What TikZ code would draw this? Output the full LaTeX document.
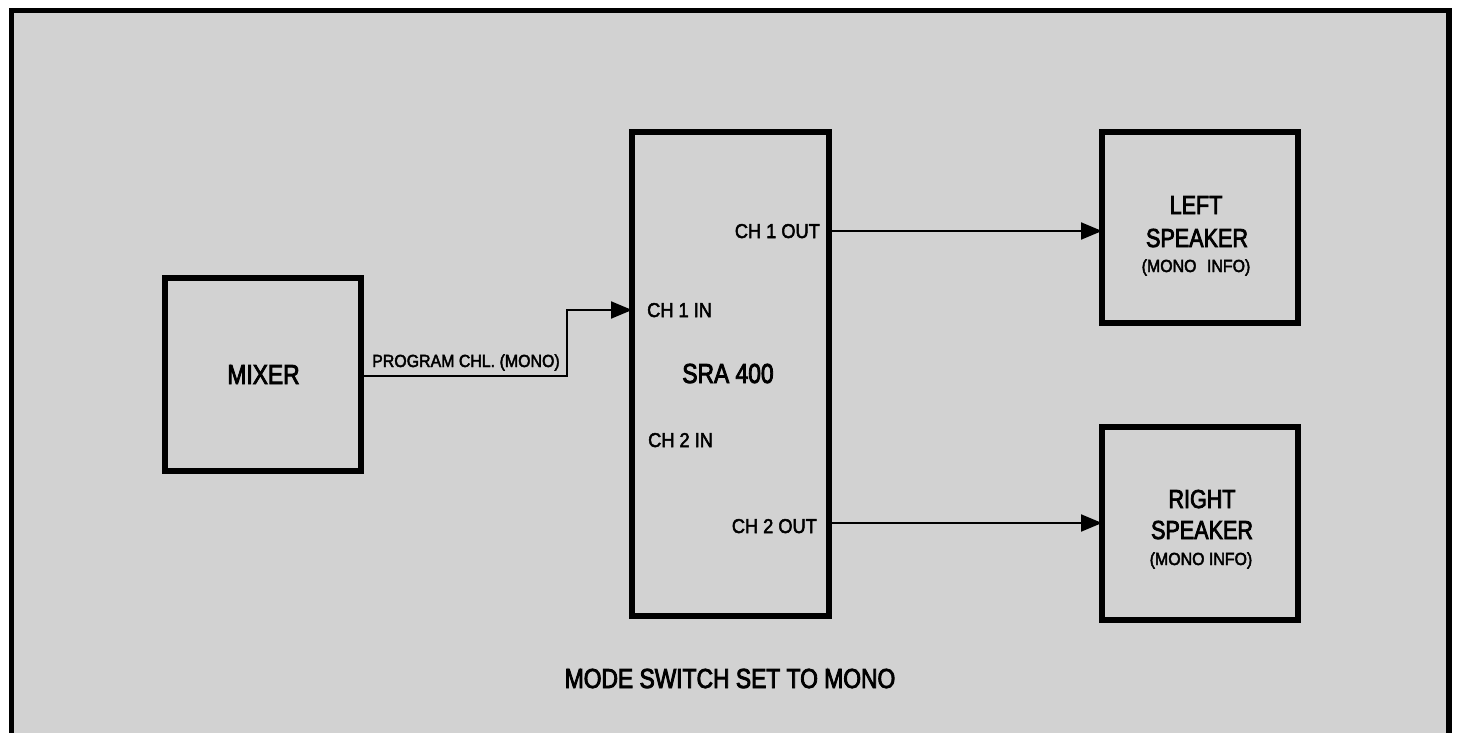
\documentclass[tikz,border=0pt]{standalone}
\usepackage{fontspec}
\newfontfamily\condA[FakeStretch=0.83,FakeBold=3]{Liberation Sans}
\newfontfamily\condB[FakeStretch=0.91,FakeBold=2.5]{Liberation Sans}
\usetikzlibrary{arrows.meta}
\definecolor{paper}{RGB}{210,210,210}
\begin{document}
\begin{tikzpicture}[x=1pt,y=-1pt,
  blockbox/.style={draw=black,line width=5.5pt,minimum width=#1,inner sep=0pt,outer sep=0pt},
  bigtxt/.style={inner sep=0pt,font=\condA\fontsize{27.5}{30}\selectfont},
  spktxt/.style={inner sep=0pt,font=\condA\fontsize{26}{28}\selectfont},
  smalltxt/.style={inner sep=0pt,font=\condB\fontsize{20}{22}\selectfont},
  infotxt/.style={inner sep=0pt,font=\condB\fontsize{17.5}{19}\selectfont},
  wire/.style={draw=black,line width=2pt,-{Triangle[length=21pt,width=17pt]}}]
\useasboundingbox (0,0) rectangle (1457,733);
\fill[white] (0,0) rectangle (1457,733);
\fill[paper] (11.5,10.5) rectangle (1449,733);
\draw[line width=5.5pt] (11.5,733) -- (11.5,10.5) -- (1449,10.5) -- (1449,733);

% blocks
\node[blockbox=196pt,minimum height=193pt] (mixer) at (263,374.5) {};
\node[blockbox=197pt,minimum height=484pt] (sra) at (730.5,374) {};
\node[blockbox=196pt,minimum height=191pt] (lsp) at (1200,227.5) {};
\node[blockbox=196pt,minimum height=193pt] (rsp) at (1200,523.5) {};

% texts
\node[bigtxt,anchor=base] (tmixer) at (263.5,384) {MIXER};
\node[bigtxt,anchor=base] (tsra) at (728,383) {SRA 400};
\node[smalltxt,anchor=base west] (tin1) at (647,317) {CH 1 IN};
\node[smalltxt,anchor=base west] (tin2) at (648,447) {CH 2 IN};
\node[smalltxt,anchor=base east] (tout1) at (820,238) {CH 1 OUT};
\node[smalltxt,anchor=base east] (tout2) at (817,533) {CH 2 OUT};
\node[infotxt,anchor=base west] (tprog) at (372,367) {PROGRAM CHL. (MONO)};
\node[spktxt,anchor=base] (tl1) at (1196,214) {LEFT};
\node[spktxt,anchor=base] (tl2) at (1197,247) {SPEAKER};
\node[infotxt,anchor=base] (tl3) at (1196,272) {(MONO\hspace{0.6em}INFO)};
\node[spktxt,anchor=base] (tr1) at (1202,508) {RIGHT};
\node[spktxt,anchor=base] (tr2) at (1202,539) {SPEAKER};
\node[infotxt,anchor=base] (tr3) at (1201,565) {(MONO INFO)};
\node[bigtxt,anchor=base] (tmode) at (730,688) {MODE SWITCH SET TO MONO};

% connectors
\coordinate (in1) at ([yshift=64pt]sra.west);
\coordinate (bend) at ([xshift=206pt,yshift=-1.5pt]mixer.east);
\draw[wire] ([yshift=-1.5pt]mixer.east) -- (bend) |- (in1);
\coordinate (o1) at ([yshift=143pt]sra.east);
\coordinate (o2) at ([yshift=-149pt]sra.east);
\draw[wire] (o1) -- (o1 -| lsp.west);
\draw[wire] (o2) -- (o2 -| rsp.west);
\end{tikzpicture}
\end{document}
